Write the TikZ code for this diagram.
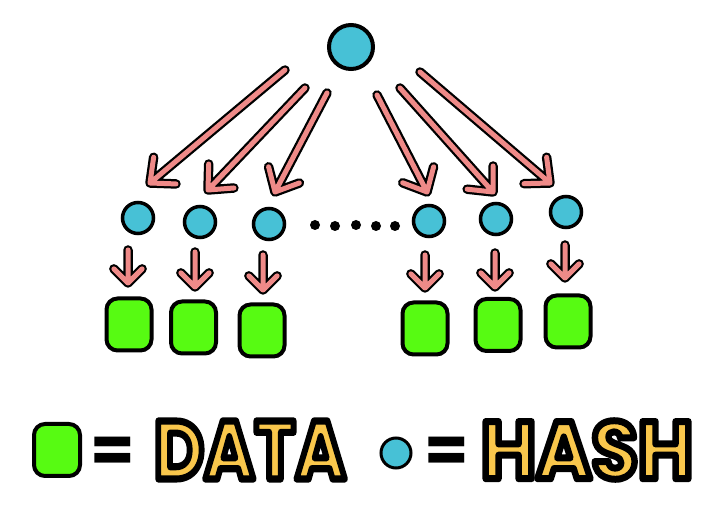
\documentclass[tikz,border=0pt]{standalone}
\usepackage{fontspec}
\newfontfamily\legendfont{Poppins}
\usetikzlibrary{calc}
\definecolor{hashblue}{HTML}{47C1D6}
\definecolor{datagreen}{HTML}{57FB12}
\definecolor{arrowpink}{HTML}{EF8A88}
\definecolor{labelyellow}{HTML}{F9C74C}
\newcommand\outlinetext[2]{\special{pdf:literal direct 0 0 0 RG 2 Tr #1 w 1 j}#2\special{pdf:literal direct 0 Tr}}
\newcommand\sketcharrow[4]{%
  \draw[arrowedge] (#1) -- (#2) ($(#2)!#3!#4:(#1)$) -- (#2) -- ($(#2)!#3!-#4:(#1)$);
  \draw[arrowcore] (#1) -- (#2) ($(#2)!#3!#4:(#1)$) -- (#2) -- ($(#2)!#3!-#4:(#1)$);}
\begin{document}
\begin{tikzpicture}[x=1pt,y=-1pt,
  hashnode/.style={circle, draw=black, fill=hashblue, line width=3.5pt, inner sep=0pt, minimum size=31pt},
  datanode/.style={rectangle, rounded corners=11pt, draw=black, fill=datagreen, line width=4pt, inner sep=0pt, minimum width=45pt, minimum height=52pt},
  dotnode/.style={circle, fill=black, inner sep=0pt, minimum size=10pt},
  arrowedge/.style={draw=black, line width=9.5pt, line cap=round, line join=round},
  arrowcore/.style={draw=arrowpink, line width=5pt, line cap=round, line join=round},
  legendtext/.style={inner sep=0pt, text=labelyellow, font=\legendfont\bfseries\fontsize{82}{82}\selectfont},
  eqtext/.style={inner sep=0pt, text=black, font=\legendfont\bfseries\fontsize{64}{64}\selectfont}]
\fill[white] (0,0) rectangle (724,518);
\useasboundingbox (0,0) rectangle (724,518);

% hash nodes
\node[hashnode, minimum size=44pt, line width=4pt] (root) at (351,47) {};
\node[hashnode] (c1) at (138,218) {};
\node[hashnode] (c2) at (200,222) {};
\node[hashnode] (c3) at (269,224) {};
\node[hashnode] (c4) at (429,221) {};
\node[hashnode] (c5) at (496,219) {};
\node[hashnode] (c6) at (566,212) {};

% ellipsis dots
\node[dotnode] (e1) at (315,225) {};
\node[dotnode] (e2) at (335,226) {};
\node[dotnode] (e3) at (356,225) {};
\node[dotnode] (e4) at (376,226) {};
\node[dotnode] (e5) at (395,226) {};

% data nodes
\node[datanode] (d1) at (129,324.5) {};
\node[datanode] (d2) at (193.5,327.5) {};
\node[datanode] (d3) at (262,330.5) {};
\node[datanode] (d4) at (425,328.5) {};
\node[datanode] (d5) at (498,325) {};
\node[datanode] (d6) at (568,321.5) {};

% big arrow ends
\coordinate (a1s) at (285,70);  \coordinate (a1e) at (150,183);
\coordinate (a2s) at (305,88);  \coordinate (a2e) at (208,190);
\coordinate (a3s) at (327,93);  \coordinate (a3e) at (275,192);
\coordinate (a4s) at (377,95);  \coordinate (a4e) at (427,192);
\coordinate (a5s) at (400,88);  \coordinate (a5e) at (493,192);
\coordinate (a6s) at (420,72);  \coordinate (a6e) at (550,183);
\sketcharrow{a1s}{a1e}{26pt}{42}
\sketcharrow{a2s}{a2e}{26pt}{42}
\sketcharrow{a3s}{a3e}{26pt}{42}
\sketcharrow{a4s}{a4e}{26pt}{42}
\sketcharrow{a5s}{a5e}{26pt}{42}
\sketcharrow{a6s}{a6e}{26pt}{42}

% small arrow ends
\coordinate (s1s) at (128,250); \coordinate (s1e) at (128,283);
\coordinate (s2s) at (195,252); \coordinate (s2e) at (195,287);
\coordinate (s3s) at (263,255); \coordinate (s3e) at (263,290);
\coordinate (s4s) at (425,255); \coordinate (s4e) at (425,288);
\coordinate (s5s) at (495,253); \coordinate (s5e) at (495,287);
\coordinate (s6s) at (565,245); \coordinate (s6e) at (565,278);
\sketcharrow{s1s}{s1e}{20pt}{45}
\sketcharrow{s2s}{s2e}{20pt}{45}
\sketcharrow{s3s}{s3e}{20pt}{45}
\sketcharrow{s4s}{s4e}{20pt}{45}
\sketcharrow{s5s}{s5e}{20pt}{45}
\sketcharrow{s6s}{s6e}{20pt}{45}

% legend
\node[datanode, minimum width=46pt, minimum height=52pt] (legdata) at (57,450) {};
\node[eqtext] (eq1) at (113,455) {=};
\node[legendtext] (datalabel) at (250,450) {\resizebox{192pt}{58pt}{\outlinetext{7}{DATA}}};
\node[hashnode, minimum size=30pt, line width=3pt] (leghash) at (396,453) {};
\node[eqtext] (eq2) at (447,455) {=};
\node[legendtext] (hashlabel) at (587,450) {\resizebox{212pt}{58pt}{\outlinetext{7}{HASH}}};
\end{tikzpicture}
\end{document}
